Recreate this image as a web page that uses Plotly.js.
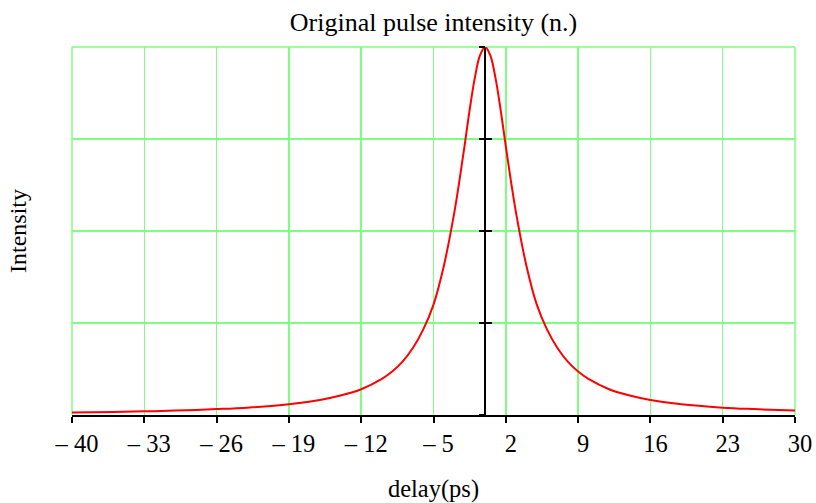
<!DOCTYPE html>
<html>
<head>
<meta charset="utf-8">
<script src="https://cdn.plot.ly/plotly-3.0.1.min.js"></script>
<style>html,body{margin:0;padding:0;background:#fff;}#chart{width:816px;height:503px;}</style>
</head>
<body>
<div id="chart"></div>
<script>
// delay values (ps) and normalised intensity
const delay = [-40, -36, -33, -30, -26, -23, -19, -16, -14, -12, -10, -9, -8, -7, -6, -5, -4, -3, -2.5, -2, -1.5, -1, -0.5, 0,
               0.5, 1, 1.5, 2, 2.5, 3, 4, 5, 6, 7, 8, 9, 10, 12, 14, 16, 19, 23, 26, 30];
const intensity = [0.0068, 0.0083, 0.0099, 0.012, 0.016, 0.020, 0.029, 0.041, 0.053, 0.070, 0.098, 0.118, 0.145, 0.182, 0.232, 0.30, 0.405, 0.548, 0.635, 0.73, 0.829, 0.916, 0.977, 1.0,
                   0.977, 0.916, 0.829, 0.73, 0.635, 0.548, 0.405, 0.30, 0.232, 0.182, 0.145, 0.118, 0.098, 0.070, 0.053, 0.041, 0.029, 0.020, 0.016, 0.012];
const xTicks = [-40, -33, -26, -19, -12, -5, 2, 9, 16, 23, 30];
const xTickText = ['\u2013 40', '\u2013 33', '\u2013 26', '\u2013 19', '\u2013 12', '\u2013 5', '2', '9', '16', '23', '30'];
const yTicks = [0, 0.25, 0.5, 0.75, 1];

const FONT = 'Liberation Serif, Times New Roman, serif';
const GREEN = '#7fff7f';
const zeroFrac = (0 - (-40)) / (30 - (-40));

const traces = [
  {x: delay, y: intensity, type: 'scatter', mode: 'lines', line: {color: '#ff0000', width: 2, shape: 'spline'}, hoverinfo: 'skip'},
  {x: delay, y: intensity, yaxis: 'y2', type: 'scatter', mode: 'lines', line: {color: 'rgba(0,0,0,0)', width: 0}, hoverinfo: 'skip', showlegend: false},
  {x: delay, y: intensity, yaxis: 'y3', type: 'scatter', mode: 'lines', line: {color: 'rgba(0,0,0,0)', width: 0}, hoverinfo: 'skip', showlegend: false}
];

const frameLine = {color: GREEN, width: 1.5};
const layout = {
  width: 816, height: 503,
  margin: {l: 72, r: 21, t: 47, b: 88},
  paper_bgcolor: '#fff', plot_bgcolor: '#fff',
  showlegend: false,
  font: {family: FONT, size: 24, color: '#000'},
  title: {text: 'Original pulse intensity (n.)', font: {family: FONT, size: 26, color: '#000'}, x: 0.5, xref: 'paper', y: 0.956, yanchor: 'middle'},
  shapes: [
    {type: 'line', xref: 'paper', yref: 'paper', x0: 0, x1: 1, y0: 1, y1: 1, line: frameLine, layer: 'below'},
    {type: 'line', xref: 'paper', yref: 'paper', x0: 0, x1: 0, y0: 0, y1: 1, line: frameLine, layer: 'below'},
    {type: 'line', xref: 'paper', yref: 'paper', x0: 1, x1: 1, y0: 0, y1: 1, line: frameLine, layer: 'below'}
  ],
  xaxis: {
    range: [-40, 30], tickmode: 'array', tickvals: xTicks, ticktext: xTickText,
    ticks: 'outside', ticklen: 6, tickwidth: 2, tickcolor: '#000',
    showline: true, linecolor: '#000', linewidth: 2,
    showgrid: true, gridcolor: GREEN, gridwidth: 1.5,
    zeroline: true, zerolinecolor: '#000', zerolinewidth: 2,
    tickfont: {family: FONT, size: 24.5}, ticklabelshift: 5,
    title: {text: 'delay(ps)', font: {family: FONT, size: 24.5}, standoff: 30},
    automargin: false
  },
  yaxis: {
    range: [0, 1], tickmode: 'array', tickvals: yTicks,
    showticklabels: false, ticks: '', showline: false,
    showgrid: true, gridcolor: GREEN, gridwidth: 1.5, zeroline: false,
    title: {text: 'Intensity', font: {family: FONT, size: 24}, standoff: 37},
    automargin: false
  },
  yaxis2: {
    overlaying: 'y', anchor: 'free', position: zeroFrac, range: [0, 1],
    tickmode: 'array', tickvals: yTicks, ticks: 'inside', ticklen: 6, tickwidth: 2, tickcolor: '#000',
    showticklabels: false, showgrid: false, zeroline: false, showline: false
  },
  yaxis3: {
    overlaying: 'y', anchor: 'free', position: zeroFrac, range: [0, 1], side: 'left',
    tickmode: 'array', tickvals: yTicks, ticks: 'outside', ticklen: 6, tickwidth: 2, tickcolor: '#000',
    showticklabels: false, showgrid: false, zeroline: false, showline: false
  }
};

Plotly.newPlot('chart', traces, layout, {displayModeBar: false, staticPlot: true});
</script>
</body>
</html>
